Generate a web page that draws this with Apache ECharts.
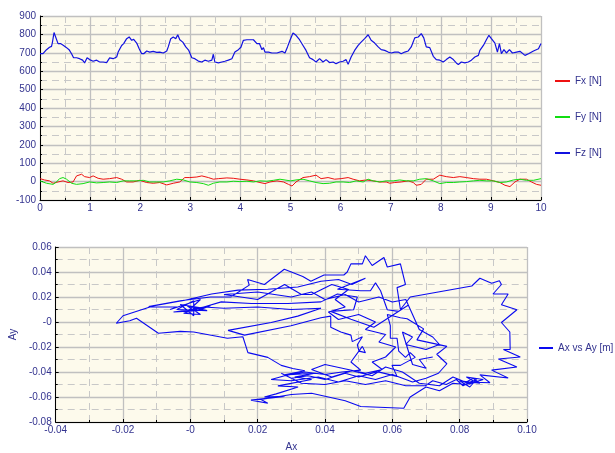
<!DOCTYPE html>
<html>
<head>
<meta charset="utf-8">
<script src="https://cdn.jsdelivr.net/npm/echarts@6/dist/echarts.min.js"></script>
<style>
html,body{margin:0;padding:0;background:#fff;}
#c{width:615px;height:453px;}
</style>
</head>
<body>
<div id="c"></div>
<script>
// ---- Data ----
const seriesNamesTop = ['Fx [N]', 'Fy [N]', 'Fz [N]'];
const seriesNameBottom = 'Ax vs Ay [m]';

const fx = [[0.00,16],[0.09,9],[0.19,4],[0.26,-9],[0.36,-2],[0.46,4],[0.56,-5],[0.66,-2],[0.73,31],[0.83,40],[0.89,27],[0.99,22],[1.06,31],[1.16,18],[1.26,13],[1.39,16],[1.53,22],[1.63,13],[1.73,-2],[1.86,-2],[1.99,7],[2.13,-5],[2.26,-9],[2.39,-5],[2.53,-18],[2.66,-9],[2.79,-2],[2.89,22],[2.99,22],[3.13,25],[3.23,31],[3.36,22],[3.46,13],[3.56,16],[3.73,20],[3.86,18],[3.99,13],[4.13,9],[4.26,4],[4.39,-5],[4.49,-11],[4.59,-2],[4.73,4],[4.86,-2],[4.96,-15],[5.03,-24],[5.11,-2],[5.25,22],[5.38,27],[5.51,35],[5.61,16],[5.75,22],[5.88,13],[6.01,16],[6.15,22],[6.25,13],[6.38,4],[6.51,9],[6.65,4],[6.78,-2],[6.91,-2],[6.98,-9],[7.08,-5],[7.21,-2],[7.35,4],[7.45,-5],[7.51,-20],[7.61,-15],[7.71,13],[7.85,13],[7.98,35],[8.11,27],[8.25,22],[8.38,27],[8.51,22],[8.65,16],[8.78,13],[8.91,13],[9.05,4],[9.18,-5],[9.28,-20],[9.38,-27],[9.48,-2],[9.58,13],[9.71,13],[9.81,-2],[9.91,-15],[10.0,-20]];

const fy = [[0.00,4],[0.13,-9],[0.26,-15],[0.33,-2],[0.39,16],[0.46,22],[0.53,13],[0.63,-9],[0.73,-15],[0.86,-11],[0.99,-2],[1.13,-7],[1.26,-5],[1.39,-2],[1.53,-5],[1.66,4],[1.79,4],[1.93,4],[2.06,7],[2.19,-2],[2.33,-2],[2.46,-2],[2.59,4],[2.73,13],[2.86,9],[2.99,-2],[3.13,-5],[3.26,-11],[3.36,-20],[3.46,-9],[3.59,-2],[3.73,-2],[3.86,2],[3.99,0],[4.13,2],[4.26,-2],[4.39,4],[4.53,2],[4.66,7],[4.79,13],[4.93,7],[5.00,4],[5.11,9],[5.25,13],[5.38,4],[5.51,-5],[5.65,-11],[5.78,-9],[5.91,-2],[6.05,-2],[6.18,-5],[6.31,4],[6.45,-2],[6.55,13],[6.65,4],[6.78,-2],[6.91,4],[7.05,4],[7.18,9],[7.31,4],[7.45,4],[7.58,13],[7.71,16],[7.85,4],[7.98,-11],[8.11,-5],[8.25,-5],[8.38,-2],[8.51,0],[8.65,4],[8.78,7],[8.91,4],[9.05,4],[9.18,-5],[9.31,-2],[9.45,9],[9.58,13],[9.71,7],[9.85,7],[10.0,16]];

const fz = [[0.00,695],[0.06,695],[0.13,717],[0.19,730],[0.23,735],[0.25,760],[0.28,810],[0.31,808],[0.36,750],[0.41,750],[0.44,760],[0.47,740],[0.53,728],[0.58,717],[0.63,695],[0.67,673],[0.73,673],[0.79,668],[0.85,660],[0.89,645],[0.94,673],[0.99,663],[1.06,654],[1.13,660],[1.19,650],[1.26,650],[1.33,647],[1.39,672],[1.46,668],[1.53,677],[1.56,704],[1.63,740],[1.67,750],[1.73,777],[1.78,786],[1.83,768],[1.87,773],[1.93,753],[1.98,722],[2.03,695],[2.07,695],[2.13,710],[2.19,704],[2.26,708],[2.33,702],[2.39,704],[2.46,699],[2.53,710],[2.56,732],[2.61,777],[2.66,786],[2.71,777],[2.75,798],[2.79,771],[2.85,758],[2.91,732],[2.97,713],[3.03,673],[3.09,668],[3.16,655],[3.23,650],[3.29,660],[3.36,654],[3.43,660],[3.46,692],[3.49,650],[3.56,645],[3.63,650],[3.69,654],[3.76,660],[3.83,668],[3.89,704],[3.96,717],[4.01,730],[4.06,768],[4.13,771],[4.19,771],[4.26,771],[4.33,750],[4.38,750],[4.43,717],[4.46,728],[4.49,704],[4.56,704],[4.63,699],[4.73,699],[4.83,708],[4.89,699],[4.94,732],[4.99,768],[5.05,808],[5.11,795],[5.18,771],[5.25,740],[5.31,713],[5.38,673],[5.45,663],[5.51,650],[5.58,668],[5.65,650],[5.71,663],[5.78,647],[5.85,650],[5.91,641],[5.98,650],[6.05,654],[6.11,663],[6.15,637],[6.21,677],[6.28,713],[6.35,740],[6.41,758],[6.48,777],[6.55,798],[6.61,768],[6.68,753],[6.75,732],[6.81,717],[6.88,713],[6.95,704],[7.01,699],[7.08,704],[7.15,704],[7.21,695],[7.28,704],[7.35,710],[7.41,732],[7.48,781],[7.55,786],[7.61,804],[7.66,781],[7.71,732],[7.78,728],[7.85,681],[7.91,663],[7.98,660],[8.05,650],[8.11,663],[8.18,677],[8.25,663],[8.31,645],[8.35,636],[8.41,650],[8.48,645],[8.55,650],[8.61,660],[8.68,677],[8.75,686],[8.78,713],[8.85,740],[8.91,771],[8.96,795],[9.01,777],[9.08,753],[9.13,704],[9.17,750],[9.21,695],[9.26,717],[9.31,699],[9.37,717],[9.43,699],[9.51,704],[9.58,708],[9.68,686],[9.75,695],[9.85,710],[9.95,722],[10.0,750]];

const axAy = [
[0.000,0.010],[0.004,0.012],[-0.002,0.007],[0.003,0.006],[-0.001,0.013],[0.005,0.009],[-0.004,0.010],[0.001,0.017],[0.001,0.005],[-0.003,0.014],[0.004,0.011],[-0.005,0.008],[0.002,0.009],[0.006,0.013],[-0.001,0.008],[0.003,0.018],[-0.006,0.010],[-0.004,0.012],
[-0.012,0.012],[-0.020,0.005],[-0.022,-0.001],[-0.018,0.001],[-0.016,0.003],[-0.0095,-0.009],[-0.003,-0.0075],[0.001,-0.008],[0.011,-0.013],[0.0156,-0.0118],
[0.0171,-0.0245],[0.023,-0.0283],[0.027,-0.0347],[0.0304,-0.0372],[0.034,-0.039],[0.028,-0.0423],[0.037,-0.041],[0.031,-0.044],[0.036,-0.046],[0.026,-0.0511],[0.032,-0.052],[0.0255,-0.0575],[0.022,-0.060],[0.028,-0.0595],[0.018,-0.0625],[0.023,-0.065],[0.021,-0.062],[0.030,-0.058],[0.036,-0.057],[0.046,-0.063],[0.0506,-0.0676],[0.0634,-0.069],[0.0653,-0.060],[0.070,-0.052],[0.074,-0.055],[0.078,-0.049],[0.082,-0.050],[0.085,-0.046],[0.083,-0.052],[0.080,-0.047],[0.086,-0.049],[0.084,-0.045],[0.082,-0.048],
[0.089,-0.0486],[0.086,-0.0423],[0.0944,-0.0448],[0.0895,-0.0385],[0.097,-0.036],[0.0915,-0.0296],[0.098,-0.028],[0.093,-0.022],[0.095,-0.022],[0.0949,-0.008],[0.0924,-0.0004],[0.097,0.0098],[0.0924,0.0138],[0.0944,0.0224],[0.0899,0.0224],[0.0924,0.030],[0.0918,0.033],[0.0895,0.031],[0.086,0.035],[0.0836,0.0288],
[0.0653,0.020],[0.0624,0.010],[0.0614,0.0275],[0.0639,0.030],[0.0624,0.0465],[0.0585,0.044],[0.0575,0.0516],[0.054,0.0452],[0.052,0.053],[0.0511,0.0465],[0.0477,0.0465],[0.0466,0.040],[0.0456,0.0376],[0.0397,0.0376],[0.0358,0.0326],[0.0334,0.0364],[0.0279,0.0422],[0.022,0.030],[0.017,0.034],[0.0175,0.0295],[0.012,0.020],[0.006,0.020],[0.000,0.018],[-0.003,0.017],
[-0.0124,0.0123],[-0.0016,0.0174],[0.0063,0.0224],[0.0142,0.0255],[0.023,0.0262],[0.0319,0.028],[0.0388,0.0326],[0.044,0.034],[0.048,0.030],[0.052,0.035],[0.0437,0.0262],[0.0506,0.025],[0.0535,0.025],[0.055,0.0313],[0.0565,0.025],[0.0585,0.0098],[0.0618,0.0085],[0.0648,0.0136],
[0.0545,-0.0042],[0.0477,0.0022],[0.0417,0.0085],[0.0485,0.0098],[0.0496,0.020],[0.0437,0.0224],[0.0388,0.0161],[0.029,0.0148],[0.0181,0.0148],[0.0092,0.0161],[0.004,0.012],[0.010,0.011],[0.020,0.012],[0.030,0.010],[0.0388,0.011],[0.0319,0.0047],[0.024,-0.0004],[0.0112,-0.0067],[0.0161,-0.0105],[0.0299,-0.003],[0.0388,0.0034],[0.0417,0.0047],[0.0417,-0.0042],[0.0447,-0.008],[0.0477,-0.0105],[0.0481,-0.0157],[0.0511,-0.0118],[0.0496,-0.0182],[0.0501,-0.0233],[0.052,-0.0245],[0.0511,-0.0195],[0.0477,-0.032],[0.0506,-0.0385],
[0.045,-0.040],[0.040,-0.042],[0.034,-0.040],[0.028,-0.043],[0.024,-0.046],[0.030,-0.047],[0.038,-0.044],[0.044,-0.048],[0.050,-0.043],[0.055,-0.046],[0.060,-0.042],[0.066,-0.048],[0.070,-0.045],[0.0737,-0.041],[0.0762,-0.0334],[0.0732,-0.0258],[0.0762,-0.0195],[0.0673,-0.0143],[0.0693,-0.0055],[0.0644,0.0026],[0.0624,0.0034],[0.0585,0.006],[0.0594,-0.0029],[0.0594,-0.013],[0.0614,-0.013],[0.0619,-0.0233],[0.0639,-0.0283],[0.0653,-0.0245],[0.0668,-0.0283],[0.0624,-0.0347],[0.0599,-0.0347],[0.0614,-0.0435],[0.0555,-0.0397],[0.050,-0.044],[0.046,-0.041],[0.040,-0.046],[0.035,-0.043],[0.030,-0.045],[0.027,-0.041],[0.033,-0.049],[0.040,-0.050],[0.046,-0.047],[0.052,-0.050],[0.058,-0.047],[0.064,-0.051],[0.0698,-0.051],[0.072,-0.047],[0.076,-0.050],[0.079,-0.046],[0.081,-0.051],[0.084,-0.047],[0.082,-0.044],[0.087,-0.046],[0.0829,-0.0495],[0.078,-0.044],[0.074,-0.051],[0.068,-0.049],
[0.063,-0.040],[0.058,-0.036],[0.054,-0.043],[0.048,-0.039],[0.042,-0.044],[0.036,-0.038],[0.040,-0.034],[0.052,-0.041],[0.057,-0.038],[0.054,-0.032],[0.058,-0.028],[0.061,-0.020],[0.056,-0.016],[0.058,-0.010],[0.052,-0.006],[0.055,0.000],[0.050,0.006],[0.044,0.002],[0.041,0.008],[0.046,0.012],[0.043,0.018],[0.047,0.026],[0.042,0.030],[0.036,0.022],[0.033,0.022],[0.028,0.030],[0.020,0.018],
[0.010,0.022],[0.020,0.024],[0.030,0.020],[0.036,0.024],[0.040,0.018],[0.046,0.022],[0.050,0.016],[0.056,0.020],[0.060,0.016],[0.064,0.018],
[0.068,-0.006],[0.072,-0.012],[0.074,-0.018],[0.070,-0.022],[0.064,-0.018],[0.066,-0.012],[0.063,-0.008],[0.066,-0.034],[0.070,-0.037],[0.068,-0.030],[0.072,-0.028]
];

// ---- Styling ----
const FONT = 'Liberation Sans';
const TXT = '#33338F';
const BG = '#FDFAEC';
const major = { show: true, lineStyle: { color: '#C0C0C0', width: 1.3 } };
const minor = { show: true, lineStyle: { color: '#C8C8C8', width: 1, type: [7, 5] } };
const axisLine = { show: true, onZero: false, lineStyle: { color: '#000', width: 1 } };
const tick = { show: true, inside: true, length: 3, lineStyle: { color: '#000' } };
const minorTick = { show: true, splitNumber: 2, length: 2, lineStyle: { color: '#000' } };
const lbl = { color: TXT, fontFamily: FONT, fontSize: 10 };
const fmt2 = v => Math.abs(v) < 1e-9 ? '-0' : v.toFixed(2);
const legendText = { color: TXT, fontFamily: FONT, fontSize: 10, lineHeight: 12 };

const chart = echarts.init(document.getElementById('c'), null, { renderer: 'canvas' });
chart.setOption({
  animation: false,
  backgroundColor: '#fff',
  textStyle: { fontFamily: FONT },
  grid: [
    { left: 40, top: 16, width: 501, height: 184, show: true, backgroundColor: BG, borderWidth: 0 },
    { left: 53, top: 247, width: 474, height: 184, show: true, backgroundColor: BG, borderWidth: 0 }
  ],
  legend: [
    { data: seriesNamesTop, orient: 'vertical', left: 555, top: 75, padding: 0, icon: 'rect', itemWidth: 15, itemHeight: 2, itemGap: 24,
      textStyle: legendText },
    { data: [seriesNameBottom], orient: 'vertical', left: 539, top: 342, padding: 0, icon: 'rect', itemWidth: 14, itemHeight: 2,
      textStyle: legendText }
  ],
  xAxis: [
    { type: 'value', gridIndex: 0, min: 0, max: 10, interval: 1,
      axisLine, axisTick: tick, minorTick,
      splitLine: major, minorSplitLine: minor,
      axisLabel: Object.assign({ margin: 3 }, lbl) },
    { type: 'value', gridIndex: 1, min: -0.04, max: 0.10, interval: 0.02,
      axisLine, axisTick: tick, minorTick,
      splitLine: major, minorSplitLine: minor,
      axisLabel: Object.assign({ margin: 3, formatter: fmt2 }, lbl),
      name: 'Ax', nameLocation: 'middle', nameGap: 20,
      nameTextStyle: { color: TXT, fontFamily: FONT, fontSize: 10 } }
  ],
  yAxis: [
    { type: 'value', gridIndex: 0, min: -100, max: 900, interval: 100,
      axisLine, axisTick: tick, minorTick,
      splitLine: major, minorSplitLine: minor,
      axisLabel: Object.assign({ margin: 4 }, lbl) },
    { type: 'value', gridIndex: 1, min: -0.08, max: 0.06, interval: 0.02,
      axisLine, axisTick: tick, minorTick,
      splitLine: major, minorSplitLine: minor,
      axisLabel: Object.assign({ margin: 4, formatter: fmt2 }, lbl),
      name: 'Ay', nameLocation: 'middle', nameGap: 34,
      nameTextStyle: { color: TXT, fontFamily: FONT, fontSize: 10 } }
  ],
  series: [
    { name: 'Fx [N]', type: 'line', xAxisIndex: 0, yAxisIndex: 0, data: fx, showSymbol: false,
      color: '#EE1111', lineStyle: { width: 1, color: '#EE1111' } },
    { name: 'Fy [N]', type: 'line', xAxisIndex: 0, yAxisIndex: 0, data: fy, showSymbol: false,
      color: '#11DD11', lineStyle: { width: 1, color: '#11DD11' } },
    { name: 'Fz [N]', type: 'line', xAxisIndex: 0, yAxisIndex: 0, data: fz, showSymbol: false,
      color: '#1111E0', lineStyle: { width: 1.2, color: '#1111E0' } },
    { name: 'Ax vs Ay [m]', type: 'line', xAxisIndex: 1, yAxisIndex: 1, data: axAy, showSymbol: false,
      color: '#0A0AF0', lineStyle: { width: 1.1, color: '#0A0AF0' } }
  ]
});
</script>
</body>
</html>
